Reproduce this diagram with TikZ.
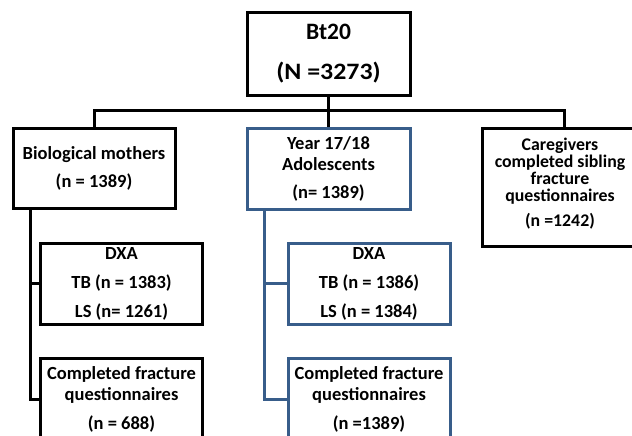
\documentclass[tikz,border=0pt]{standalone}
\usepackage{fontspec}
\setmainfont{Carlito}
\definecolor{boxblue}{HTML}{385D8A}
\begin{document}
\begin{tikzpicture}[x=1pt,y=-1pt,
  box/.style={draw=black, line width=3pt, inner sep=0pt, align=center, font=\bfseries\fontsize{18.5}{21}\selectfont},
  bluebox/.style={box, draw=boxblue},
  link/.style={draw=black, line width=3pt},
  bluelink/.style={link, draw=boxblue}]
\useasboundingbox (0,0) rectangle (632,436);
\clip (0,0) rectangle (632,436);
\node[box, minimum width=163pt, minimum height=82pt, font=\bfseries\fontsize{23.5}{40}\selectfont] (top) at (328.5,54) {Bt20\\\scalebox{1.1}[1]{(N =3273)}};
\node[box, minimum width=162pt, minimum height=80pt] (bm) at (94,168) {Biological mothers\\[7pt](n = 1389)};
\node[bluebox, minimum width=163pt, minimum height=81pt] (yr) at (328.5,168.5) {Year 17/18\\Adolescents\\[7pt](n= 1389)};
\node[box, minimum width=156pt, minimum height=118pt, font=\bfseries\fontsize{17.8}{17}\selectfont] (cg) at (560,187) {Caregivers\\completed sibling\\fracture\\questionnaires\\[8pt](n =1242)\rule[-10pt]{0pt}{1pt}};
\node[box, minimum width=162pt, minimum height=81pt] (dxa1) at (121.5,283.5) {DXA\\[8pt]TB (n = 1383)\\[8pt]LS (n= 1261)};
\node[box, minimum width=162pt, minimum height=82pt] (cf1) at (121.5,399) {Completed fracture\\questionnaires\\[8pt](n = 688)};
\node[bluebox, minimum width=162pt, minimum height=81pt] (dxa2) at (369,283.5) {DXA\\[8pt]TB (n = 1386)\\[8pt]LS (n = 1384)};
\node[bluebox, minimum width=162pt, minimum height=82pt] (cf2) at (369,399) {Completed fracture\\questionnaires\\[8pt](n =1389)};
\coordinate (cgin) at ([xshift=4pt]cg.north);
\draw[link] (top.south) -- ++(0,17);
\draw[link] (bm.north) -- ++(0,-16) -| (cgin);
\draw[link] (yr.north) -- ++(0,-16);
\draw[link] ([xshift=-64pt]bm.south) |- (cf1.west);
\draw[link] ([xshift=-64pt]bm.south |- dxa1.west) -- (dxa1.west);
\draw[bluelink] ([xshift=-64.5pt]yr.south) |- (cf2.west);
\draw[bluelink] ([xshift=-64.5pt]yr.south |- dxa2.west) -- (dxa2.west);
\end{tikzpicture}
\end{document}
